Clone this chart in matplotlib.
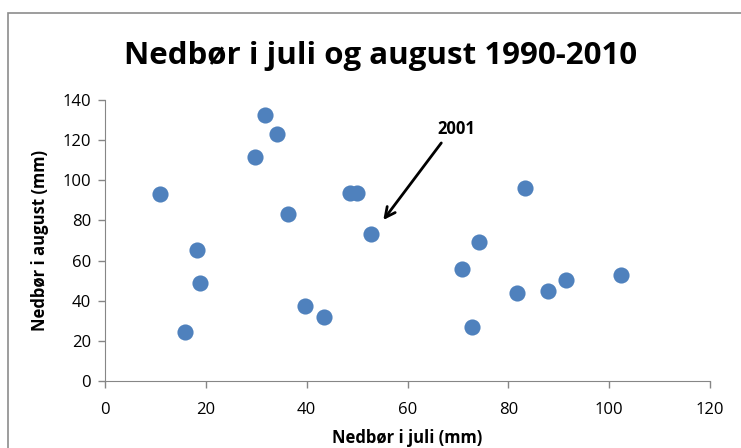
import matplotlib.pyplot as plt
from matplotlib.patches import Rectangle

# Nedbør (mm), juli vs august, 1990-2010
juli = [10.9, 31.7, 34.1, 29.8, 36.3, 18.3, 18.8, 15.9, 39.7, 43.5, 48.6,
        50.0, 52.8, 83.3, 74.2, 70.8, 72.8, 81.7, 87.9, 91.5, 102.4]
august = [93.2, 132.5, 123.0, 111.6, 83.2, 65.3, 48.8, 24.4, 37.4, 31.9, 93.7,
          93.7, 73.2, 96.2, 69.3, 55.8, 26.9, 43.8, 44.8, 50.3, 52.8]

x_ticks = [0, 20, 40, 60, 80, 100, 120]
y_ticks = [0, 20, 40, 60, 80, 100, 120, 140]

plt.rcParams['font.family'] = ['Open Sans', 'DejaVu Sans']
grey = '#868686'

fig = plt.figure(figsize=(7.41, 4.48), dpi=100)
fig.patches.append(Rectangle((0.0108, -0.1), 1.2, 1.071, transform=fig.transFigure,
                             fill=False, edgecolor='#8c8c8c', linewidth=1.2))

ax = fig.add_axes([0.1417, 0.1496, 0.8165, 0.6272])
ax.scatter(juli, august, s=135, color='#4F81BD', zorder=3, linewidths=0)

ax.set_xlim(0, 120)
ax.set_ylim(0, 140)
ax.set_xticks(x_ticks)
ax.set_yticks(y_ticks)
ax.tick_params(labelsize=12, color=grey, length=5, width=1)
ax.tick_params(axis='x', pad=10)
ax.tick_params(axis='y', pad=5)
for s in ['top', 'right']:
    ax.spines[s].set_visible(False)
for s in ['left', 'bottom']:
    ax.spines[s].set_color(grey)

ax.set_xlabel('Nedbør i juli (mm)', fontsize=12, fontweight='bold', labelpad=8)
ax.set_ylabel('Nedbør i august (mm)', fontsize=12, fontweight='bold', labelpad=10)
fig.text(0.513, 0.876, 'Nedbør i juli og august 1990-2010', ha='center', va='center',
         fontsize=22.5, fontweight='bold')

# pil til 2001
ax.annotate('', xy=(55.2, 80.2), xytext=(66.7, 118.6),
            arrowprops=dict(arrowstyle='->', color='black', lw=2, mutation_scale=18,
                            shrinkA=0, shrinkB=0))
ax.text(65.9, 121.0, '2001', fontsize=12, fontweight='bold', ha='left', va='bottom')

fig.savefig('out.png', dpi=100)
